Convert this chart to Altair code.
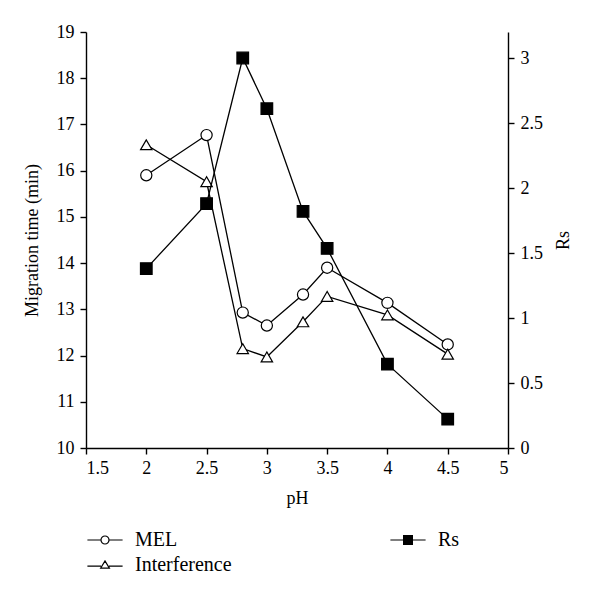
import altair as alt
import pandas as pd

ph = [2.0, 2.5, 2.8, 3.0, 3.3, 3.5, 4.0, 4.5]
mel = [15.9, 16.77, 12.93, 12.65, 13.32, 13.9, 13.14, 12.24]
interference = [16.56, 15.76, 12.15, 11.97, 12.73, 13.28, 12.88, 12.03]
rs = [1.38, 1.88, 3.0, 2.61, 1.82, 1.535, 0.645, 0.222]

x_ticks = [1.5, 2, 2.5, 3, 3.5, 4, 4.5, 5]
left_ticks = [10, 11, 12, 13, 14, 15, 16, 17, 18, 19]
right_ticks = [0, 0.5, 1, 1.5, 2, 2.5, 3]

left_df = pd.DataFrame(
    {"pH": ph * 2, "value": mel + interference,
     "series": ["MEL"] * len(ph) + ["Interference"] * len(ph)}
)
right_df = pd.DataFrame({"pH": ph, "Rs": rs, "series": ["Rs"] * len(ph)})

FONT = "Liberation Serif"

x_enc = alt.X("pH:Q", scale=alt.Scale(domain=[1.5, 5], nice=False, zero=False),
              axis=alt.Axis(values=x_ticks, format="~g", title="pH", grid=False,
                            tickSize=6, labelPadding=5, titlePadding=12))

circle_path = "M-2.2,0L-0.5,0M0.5,0L2.2,0M-0.5,0A0.5,0.5 0 1,1 0.5,0A0.5,0.5 0 1,1 -0.5,0Z"
tri_path = "M-2.2,0.15L-0.5,0.15M0.5,0.15L2.2,0.15M-0.55,0.4L0,-0.5L0.55,0.4Z"
sq_path = "M-2.2,0L-0.5,0M0.5,0L2.2,0M-0.55,-0.55L0.55,-0.55L0.55,0.55L-0.55,0.55Z"


def make_legend(path, lx, ly):
    return alt.Legend(
        title=None, orient="none", legendX=lx, legendY=ly, padding=0,
        symbolType=path, symbolSize=256, labelOffset=20, labelFontSize=20,
        labelFont=FONT, labelColor="black", symbolStrokeColor="black",
        symbolStrokeWidth=1.2, symbolOpacity=1,
    )


y_left = alt.Y("value:Q", scale=alt.Scale(domain=[10, 19], nice=False, zero=False),
               axis=alt.Axis(values=left_ticks, title="Migration time (min)", grid=False,
                             tickSize=6, labelPadding=6, titlePadding=15))
y_right = alt.Y("Rs:Q", scale=alt.Scale(domain=[0, 3.2], nice=False),
                axis=alt.Axis(orient="right", values=right_ticks, format="~g", title="Rs",
                              grid=False, tickSize=6, labelPadding=6, titlePadding=30,
                              titleAngle=270))

left_line = alt.Chart(left_df).mark_line(color="black", strokeWidth=1.3).encode(
    x=x_enc, y=y_left, detail="series:N")

mel_pts = alt.Chart(left_df).transform_filter(alt.datum.series == "MEL").mark_point(
    filled=True, shape="circle", stroke="black", strokeWidth=1.2, size=125, opacity=1
).encode(
    x=x_enc, y=y_left,
    fill=alt.Fill("series:N", scale=alt.Scale(domain=["MEL"], range=["white"]),
                  legend=make_legend(circle_path, 9, 498)),
)
int_pts = alt.Chart(left_df).transform_filter(alt.datum.series == "Interference").mark_point(
    filled=True, shape="triangle-up", stroke="black", strokeWidth=1.2, size=130, opacity=1
).encode(
    x=x_enc, y=y_left,
    fill=alt.Fill("series:N", scale=alt.Scale(domain=["Interference"], range=["white"]),
                  legend=make_legend(tri_path, 9, 523)),
)

right_line = alt.Chart(right_df).mark_line(color="black", strokeWidth=1.3).encode(
    x=x_enc, y=y_right)
rs_pts = alt.Chart(right_df).mark_point(
    filled=True, shape="square", stroke="black", strokeWidth=1.2, size=135, opacity=1
).encode(
    x=x_enc, y=y_right,
    fill=alt.Fill("series:N", scale=alt.Scale(domain=["Rs"], range=["black"]),
                  legend=make_legend(sq_path, 312, 498)),
)

left_layer = alt.layer(left_line, mel_pts, int_pts).resolve_scale(fill="independent")
right_layer = alt.layer(right_line, rs_pts)

chart = alt.layer(left_layer, right_layer).resolve_scale(
    y="independent", fill="independent"
).properties(
    width=422, height=416, background="white",
    autosize=alt.AutoSizeParams(type="none"),
    padding={"left": 78, "top": 24, "right": 84, "bottom": 142},
).configure_view(stroke=None).configure_axis(
    labelFont=FONT, titleFont=FONT, labelFontSize=18, titleFontSize=18,
    labelColor="black", titleColor="black", domainColor="black", tickColor="black",
    domainWidth=1.4, tickWidth=1.4, titleFontWeight="normal",
)

chart.save("out.html", embed_options={"renderer": "svg", "actions": False})
